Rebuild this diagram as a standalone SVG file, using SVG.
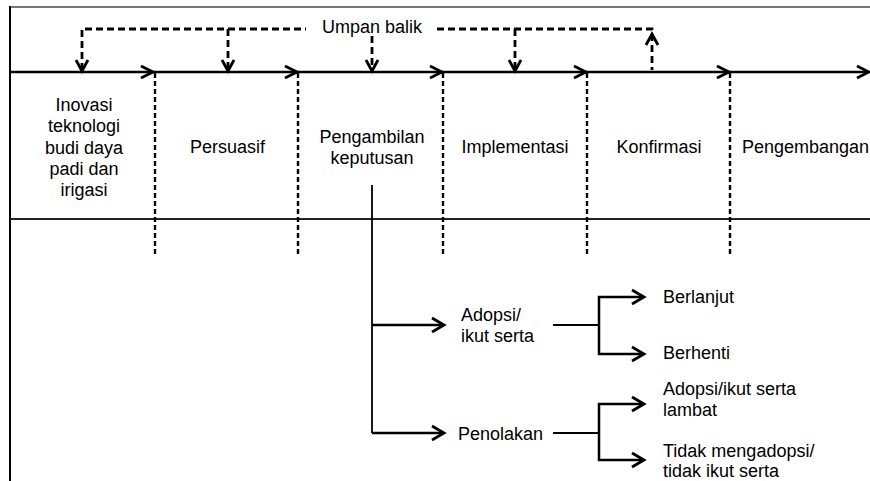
<svg xmlns="http://www.w3.org/2000/svg" width="870" height="481" viewBox="0 0 870 481">
<style>
text{font-family:"Liberation Sans",Arial,sans-serif;font-size:18px;fill:#000}
.c{text-anchor:middle}
.solid{stroke:#000;stroke-width:2.5;fill:none}
.thin{stroke:#000;stroke-width:1.8;fill:none}
.fb{stroke:#000;stroke-width:2.8;fill:none;stroke-dasharray:7 4}
.vd{stroke:#000;stroke-width:2.4;fill:none;stroke-dasharray:5 3}
.head{stroke:#000;stroke-width:2.8;fill:none;stroke-linecap:butt;stroke-linejoin:miter}
</style>
<rect width="870" height="481" fill="#fff"/>
<g id="frame">
<line x1="10" y1="7" x2="870" y2="7" stroke="#777" stroke-width="2"/>
<line x1="10" y1="6" x2="10" y2="481" stroke="#000" stroke-width="2"/>
<line x1="10" y1="219" x2="870" y2="219" stroke="#222" stroke-width="2.2"/>
</g>
<g id="connectors">
<line class="solid" x1="10" y1="72" x2="868" y2="72"/>
<path class="head" d="M141 66L153 72L141 78M285 66L297 72L285 78M430 66L442 72L430 78M574 66L586 72L574 78M717 66L729 72L717 78M857 66L869 72L857 78"/>
<line class="vd" x1="155" y1="73" x2="155" y2="257"/>
<line class="vd" x1="298" y1="73" x2="298" y2="257"/>
<line class="vd" x1="443" y1="73" x2="443" y2="257"/>
<line class="vd" x1="587" y1="73" x2="587" y2="257"/>
<line class="vd" x1="730" y1="73" x2="730" y2="257"/>
<path class="fb" d="M82 70V29H306"/>
<path class="fb" d="M437 29H652V70"/>
<line class="fb" x1="228" y1="29" x2="228" y2="70"/>
<line class="fb" x1="372" y1="36" x2="372" y2="70"/>
<line class="fb" x1="515" y1="29" x2="515" y2="70"/>
<path class="head" d="M76 60L82 71L88 60M222 60L228 71L234 60M366 60L372 71L378 60M509 60L515 71L521 60M646 45L652 34L658 45"/>
<path class="thin" d="M372 185V433"/>
<line class="solid" x1="372" y1="325" x2="443" y2="325"/>
<line class="solid" x1="372" y1="433" x2="443" y2="433"/>
<path class="head" d="M432 318L444 325L432 332M432 426L444 433L432 440"/>
<line class="thin" x1="553" y1="325" x2="599" y2="325"/>
<line class="thin" x1="553" y1="433" x2="599" y2="433"/>
<path class="solid" d="M642 297H599V354H642"/>
<path class="solid" d="M642 404H599V460H642"/>
<path class="head" d="M632 290L644 297L632 304M632 347L644 354L632 361M632 397L644 404L632 411M632 453L644 460L632 467"/>
</g>
<g id="umpan"><text class="c" x="372" y="33">Umpan balik</text></g>
<g id="inovasi"><text class="c" x="84" y="111">Inovasi</text><text class="c" x="84" y="132">teknologi</text><text class="c" x="84" y="153.5">budi daya</text><text class="c" x="84" y="175">padi dan</text><text class="c" x="84" y="196">irigasi</text></g>
<g id="persuasif"><text class="c" x="227.5" y="153">Persuasif</text></g>
<g id="pengambilan"><text class="c" x="372" y="143">Pengambilan</text><text class="c" x="372" y="164">keputusan</text></g>
<g id="implementasi"><text class="c" x="515" y="153">Implementasi</text></g>
<g id="konfirmasi"><text class="c" x="659" y="153">Konfirmasi</text></g>
<g id="pengembangan"><text x="742" y="153">Pengembangan</text></g>
<g id="adopsi"><text x="461" y="321">Adopsi/</text><text x="461" y="342">ikut serta</text></g>
<g id="penolakan"><text x="458" y="440">Penolakan</text></g>
<g id="berlanjut"><text x="663" y="303">Berlanjut</text></g>
<g id="berhenti"><text x="663" y="359">Berhenti</text></g>
<g id="lambat"><text x="663" y="395">Adopsi/ikut serta</text><text x="663" y="416">lambat</text></g>
<g id="tidak"><text x="663" y="456.5">Tidak mengadopsi/</text><text x="663" y="476.5">tidak ikut serta</text></g>
</svg>
